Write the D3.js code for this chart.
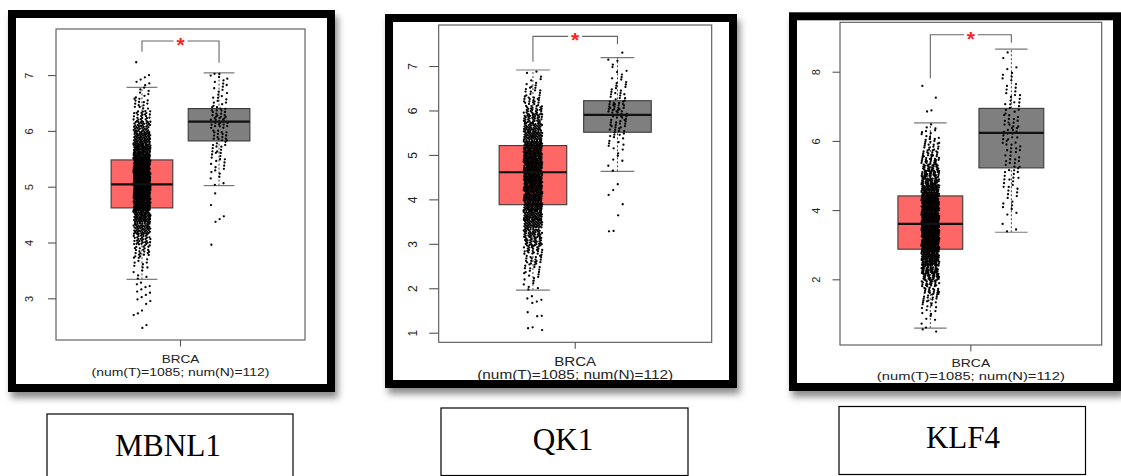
<!DOCTYPE html>
<html><head><meta charset="utf-8">
<script src="https://cdn.jsdelivr.net/npm/d3@7"></script>
<style>html,body{margin:0;padding:0;background:#fff;} svg{display:block;}</style>
</head><body>
<svg id="chart" width="1121" height="476"></svg>
<script>
// ---------------- data ----------------
const genes = ["MBNL1", "QK1", "KLF4"];
const cancerLabel = "BRCA";
const sampleLabel = "(num(T)=1085; num(N)=112)";
const groups = ["Tumor", "Normal"];
const groupColors = ["#ff6666", "#7f7f7f"];
const sigLabel = "*";

// five-number summaries [lower whisker, Q1, median, Q3, upper whisker]
const mbnl1Tumor = [3.34, 4.62, 5.04, 5.48, 6.78];
const mbnl1Normal = [5.02, 5.82, 6.165, 6.40, 7.04];
const qk1Tumor = [1.96, 3.88, 4.61, 5.21, 6.91];
const qk1Normal = [4.63, 5.51, 5.90, 6.22, 7.19];
const klf4Tumor = [0.59, 2.87, 3.60, 4.41, 6.52];
const klf4Normal = [3.36, 5.22, 6.23, 6.94, 8.65];

// number of points in equal-width bins between the whiskers (read from point density)
const mbnl1TumorCounts = [5, 10, 20, 35, 55, 79, 104, 123, 132, 130, 114, 92, 67, 44, 26, 14, 7];
const mbnl1NormalCounts = [4, 7, 9, 10, 16, 19, 17, 9, 7, 8];
const qk1TumorCounts = [5, 7, 11, 17, 24, 32, 40, 49, 58, 68, 76, 82, 86, 86, 82, 75, 65, 55, 45, 36, 27, 18, 11, 6, 3];
const qk1NormalCounts = [2, 3, 4, 6, 10, 14, 18, 18, 10, 7, 5, 4, 3];
const klf4TumorCounts = [2, 3, 5, 8, 12, 17, 23, 30, 38, 46, 54, 66, 72, 76, 78, 78, 74, 68, 62, 54, 48, 41, 34, 28, 22, 17, 12, 9, 6, 3];
const klf4NormalCounts = [3, 4, 6, 8, 11, 12, 12, 13, 13, 10, 8, 6, 4, 2];

// points outside the whiskers
const mbnl1TumorOut = [7.23, 7.00, 6.96, 6.92, 6.88, 6.85, 6.82, 3.28, 3.25, 3.22, 3.20, 3.16, 3.12, 3.10, 3.06, 3.02, 2.98, 2.95, 2.90, 2.78, 2.73, 2.70, 2.52, 2.47];
const mbnl1NormalOut = [4.88, 4.67, 4.47, 4.42, 4.37, 3.96];
const qk1TumorOut = [1.82, 1.77, 1.74, 1.70, 1.67, 1.46, 1.38, 1.37, 1.12, 1.10, 1.06];
const qk1NormalOut = [7.30, 4.34, 4.21, 4.10, 3.89, 3.64, 3.29, 3.28];
const klf4TumorOut = [7.59, 7.25, 6.88, 6.85, 0.55, 0.49];
const klf4NormalOut = [];

// significance bracket [top, tumor leg end, normal leg end]
const mbnl1Bracket = [7.61, 7.42, 7.22];
const qk1Bracket = [7.668, 7.097, 7.488];
const klf4Bracket = [9.069, 7.81, 8.84];

// y axes
const mbnl1Ticks = [3, 4, 5, 6, 7];
const qk1Ticks = [1, 2, 3, 4, 5, 6, 7];
const klf4Ticks = [2, 4, 6, 8];
const mbnl1Domain = [2.253, 7.826];
const qk1Domain = [0.784, 7.923];
const klf4Domain = [0.101, 9.428];

// ---------------- layout ----------------
const panels = [
  { gene: genes[0], stats: [mbnl1Tumor, mbnl1Normal], counts: [mbnl1TumorCounts, mbnl1NormalCounts],
    outs: [mbnl1TumorOut, mbnl1NormalOut], bracket: mbnl1Bracket, ticks: mbnl1Ticks, domain: mbnl1Domain,
    frame: [8, 10, 335, 392], plot: [56, 29, 305, 340], tickLen: 8, labOff: 22.7, tickFs: 11,
    xl1: 359, xl2: 372, xfs: 11.5, w1: 37.7, w2: 178, box: [47, 414, 293, 480], boxText: [168, 456, 106] },
  { gene: genes[1], stats: [qk1Tumor, qk1Normal], counts: [qk1TumorCounts, qk1NormalCounts],
    outs: [qk1TumorOut, qk1NormalOut], bracket: qk1Bracket, ticks: qk1Ticks, domain: qk1Domain,
    frame: [385, 14, 737, 388], plot: [438.7, 25, 711.7, 342.3], tickLen: 9.5, labOff: 22, tickFs: 12,
    xl1: 361.5, xl2: 375, xfs: 12, w1: 42, w2: 196, box: [441, 408, 688, 475.5], boxText: [563, 449.5, 60.7] },
  { gene: genes[2], stats: [klf4Tumor, klf4Normal], counts: [klf4TumorCounts, klf4NormalCounts],
    outs: [klf4TumorOut, klf4NormalOut], bracket: klf4Bracket, ticks: klf4Ticks, domain: klf4Domain,
    frame: [789, 12.3, 1121, 391], plot: [840, 22.3, 1101.7, 345], tickLen: 7.5, labOff: 20, tickFs: 11,
    xl1: 362.5, xl2: 376, xfs: 11.5, w1: 38.7, w2: 188, box: [839, 406.5, 1085.5, 474.5], boxText: [963, 448, 74] }
];

const svg = d3.select("#chart");
const defs = svg.append("defs");
const f = defs.append("filter").attr("id", "shadow").attr("x", "-10%").attr("y", "-10%").attr("width", "125%").attr("height", "125%");
f.append("feDropShadow").attr("dx", 3).attr("dy", 6).attr("stdDeviation", 3.5)
  .attr("flood-color", "#000").attr("flood-opacity", 0.45);

const sans = "'Liberation Sans', Arial, Helvetica, sans-serif";

panels.forEach((p, pi) => {
  const g = svg.append("g");
  const [fx0, fy0, fx1, fy1] = p.frame;
  // shadow + white background
  g.append("rect").attr("x", fx0).attr("y", fy0).attr("width", fx1 - fx0).attr("height", fy1 - fy0)
    .attr("fill", "#fff").attr("filter", "url(#shadow)");

  const [px0, py0, px1, py1] = p.plot;
  const x = d3.scaleLinear().domain([-0.115, 3.115]).range([px0, px1]);
  const y = d3.scaleLinear().domain(p.domain).range([py1, py0]);
  const centers = [1, 2];
  const halfBox = 0.4, halfCap = 0.2, jit = 0.11;

  // boxes
  p.stats.forEach((s, gi) => {
    const c = centers[gi];
    g.append("line").attr("x1", x(c)).attr("x2", x(c)).attr("y1", y(s[0])).attr("y2", y(s[4]))
      .attr("stroke", "#444").attr("stroke-width", 1).attr("stroke-dasharray", "2,2");
    [s[0], s[4]].forEach(v => {
      g.append("line").attr("x1", x(c - halfCap)).attr("x2", x(c + halfCap)).attr("y1", y(v)).attr("y2", y(v))
        .attr("stroke", "#777").attr("stroke-width", 1.2);
    });
    g.append("rect").attr("x", x(c - halfBox)).attr("y", y(s[3]))
      .attr("width", x(c + halfBox) - x(c - halfBox)).attr("height", y(s[1]) - y(s[3]))
      .attr("fill", groupColors[gi]).attr("stroke", "#3a3a3a").attr("stroke-width", 1.1);
  });

  // points
  p.stats.forEach((s, gi) => {
    const c = centers[gi];
    const counts = p.counts[gi];
    const bw = (s[4] - s[0]) / counts.length;
    const pts = [];
    let k = 0;
    counts.forEach((n, bi) => {
      for (let i = 0; i < n; i++) {
        k++;
        const fy = (0.5 + k * 0.5698402910) % 1;
        pts.push({ v: s[0] + bw * (bi + fy), k });
      }
    });
    p.outs[gi].forEach(v => { k++; pts.push({ v, k }); });
    g.append("g").selectAll("circle").data(pts).join("circle")
      .attr("cx", d => x(c + (((0.5 + d.k * 0.7548776662) % 1) - 0.5) * 2 * jit))
      .attr("cy", d => y(d.v))
      .attr("r", 1.15).attr("fill", "#000");
  });

  // medians
  p.stats.forEach((s, gi) => {
    const c = centers[gi];
    g.append("line").attr("x1", x(c - halfBox)).attr("x2", x(c + halfBox)).attr("y1", y(s[2])).attr("y2", y(s[2]))
      .attr("stroke", "#111").attr("stroke-width", 2.2);
  });

  // plot border
  g.append("rect").attr("x", px0).attr("y", py0).attr("width", px1 - px0).attr("height", py1 - py0)
    .attr("fill", "none").attr("stroke", "#555").attr("stroke-width", 1.1);

  // y axis
  const ax = g.append("g").attr("transform", `translate(${px0},0)`)
    .call(d3.axisLeft(y).tickValues(p.ticks).tickSize(p.tickLen).tickFormat(d3.format("d")));
  ax.select(".domain").remove();
  ax.selectAll(".tick line").attr("stroke", "#555").attr("stroke-width", 1.1);
  ax.selectAll(".tick text")
    .attr("x", null).attr("dy", null)
    .attr("transform", `translate(${-p.labOff},0) rotate(-90)`)
    .attr("text-anchor", "middle")
    .attr("font-family", sans).attr("font-size", p.tickFs).attr("fill", "#222");

  // x axis tick and labels
  const xc = x(1.5);
  g.append("line").attr("x1", xc).attr("x2", xc).attr("y1", py1).attr("y2", py1 + 6.5)
    .attr("stroke", "#555").attr("stroke-width", 1.1);
  g.append("text").attr("x", xc).attr("y", p.xl1).attr("dy", "0.36em").attr("text-anchor", "middle")
    .attr("font-family", sans).attr("font-size", p.xfs).attr("fill", "#222")
    .attr("textLength", p.w1).attr("lengthAdjust", "spacingAndGlyphs").text(cancerLabel);
  g.append("text").attr("x", xc).attr("y", p.xl2).attr("dy", "0.36em").attr("text-anchor", "middle")
    .attr("font-family", sans).attr("font-size", p.xfs).attr("fill", "#222")
    .attr("textLength", p.w2).attr("lengthAdjust", "spacingAndGlyphs").text(sampleLabel);

  // significance bracket
  const [bt, bl, br] = p.bracket;
  const xL = x(1), xR = x(2), xs = x(1.5);
  g.append("path")
    .attr("d", `M${xL},${y(bl)}V${y(bt)}H${xs - 7}M${xs + 7},${y(bt)}H${xR}V${y(br)}`)
    .attr("fill", "none").attr("stroke", "#666").attr("stroke-width", 1.1);
  g.append("text").attr("x", xs).attr("y", y(bt) + 11).attr("text-anchor", "middle")
    .attr("font-family", sans).attr("font-size", 21).attr("font-weight", "bold").attr("fill", "#ff2020")
    .text(sigLabel);

  // thick black frame
  const t = 8;
  g.append("rect").attr("x", fx0 + t / 2).attr("y", fy0 + t / 2)
    .attr("width", fx1 - fx0 - t).attr("height", fy1 - fy0 - t)
    .attr("fill", "none").attr("stroke", "#000").attr("stroke-width", t);

  // gene label box
  const [bx0, by0, bx1, by1] = p.box;
  svg.append("rect").attr("x", bx0).attr("y", by0).attr("width", bx1 - bx0).attr("height", by1 - by0)
    .attr("fill", "#fff").attr("stroke", "#000").attr("stroke-width", 1.2);
  svg.append("text").attr("x", p.boxText[0]).attr("y", p.boxText[1]).attr("text-anchor", "middle")
    .attr("font-family", "'Liberation Serif', 'Times New Roman', serif").attr("font-size", 32).attr("fill", "#000")
    .attr("textLength", p.boxText[2]).attr("lengthAdjust", "spacingAndGlyphs").text(p.gene);
});
</script>
</body></html>
